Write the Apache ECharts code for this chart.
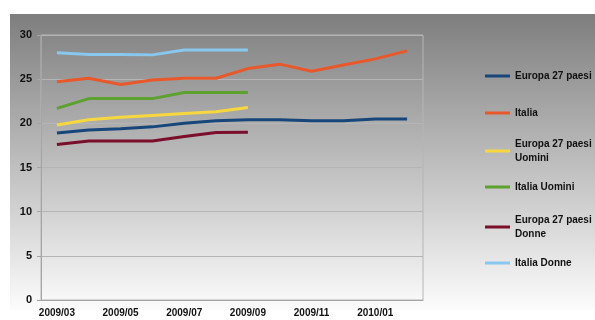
<!DOCTYPE html>
<html>
<head>
<meta charset="utf-8">
<script src="https://cdn.jsdelivr.net/npm/echarts@6/dist/echarts.min.js"></script>
<style>
    html, body { margin: 0; padding: 0; background: #fff; }
    #chart { width: 595px; height: 320px; }
</style>
</head>
<body>
<div id="chart"></div>
<script>
// months on the x axis
const months = ['2009/03', '2009/04', '2009/05', '2009/06', '2009/07', '2009/08',
    '2009/09', '2009/10', '2009/11', '2009/12', '2010/01', '2010/02'];

// values
const europa = [18.9, 19.25, 19.4, 19.6, 20.0, 20.3, 20.4, 20.4, 20.3, 20.3, 20.5, 20.5];
const italia = [24.7, 25.1, 24.4, 24.9, 25.1, 25.1, 26.2, 26.7, 25.9, 26.6, 27.3, 28.2];
const europaUomini = [19.8, 20.4, 20.7, 20.9, 21.1, 21.3, 21.8];
const italiaUomini = [21.7, 22.8, 22.8, 22.8, 23.5, 23.5, 23.5];
const europaDonne = [17.6, 18.0, 18.0, 18.0, 18.5, 18.95, 19.0];
const italiaDonne = [28.0, 27.8, 27.8, 27.75, 28.3, 28.3, 28.3];

const yTicks = { min: 0, max: 30, interval: 5 };

const seriesDefs = [
    { name: 'Europa 27 paesi', data: europa, color: '#17467a', top: 64 },
    { name: 'Italia', data: italia, color: '#e9582b', top: 101 },
    { name: 'Europa 27 paesi Uomini', data: europaUomini, color: '#f6d83e', top: 125 },
    { name: 'Italia Uomini', data: italiaUomini, color: '#5da12f', top: 175 },
    { name: 'Europa 27 paesi Donne', data: europaDonne, color: '#7b0f2b', top: 201 },
    { name: 'Italia Donne', data: italiaDonne, color: '#88c7ee', top: 251 }
];

// only the "Europa 27 paesi ..." entries wrap onto a second line
const isTwoLine = (n) => n.indexOf('paesi ') > 0;
const twoLine = (n) => n.replace('paesi ', 'paesi\n');

const font = 'Liberation Sans, Arial, sans-serif';

const legendFont = {
    fontFamily: font,
    fontWeight: 'bold',
    fontSize: 10,
    color: '#111'
};

const chart = echarts.init(document.getElementById('chart'));

const option = {
    animation: false,
    backgroundColor: '#fff',
    graphic: [
        {
            type: 'rect',
            z: -10,
            silent: true,
            shape: { x: 10, y: 14, width: 585, height: 296 },
            style: {
                fill: new echarts.graphic.LinearGradient(0, 0, 0, 1, [
                    { offset: 0, color: '#7e7e7e' },
                    { offset: 1, color: '#fcfcfc' }
                ])
            }
        }
    ],
    grid: {
        left: 41,
        top: 35,
        width: 382,
        height: 265,
        show: true,
        borderColor: '#b5b5b5',
        borderWidth: 1,
        backgroundColor: 'transparent'
    },
    legend: seriesDefs.map((s) => ({
        data: [s.name],
        left: 480,
        top: s.top,
        orient: 'vertical',
        icon: 'rect',
        itemWidth: 25,
        itemHeight: 3,
        formatter: (n) => twoLine(n),
        textStyle: Object.assign({}, legendFont, {
            lineHeight: 14,
            padding: isTwoLine(s.name) ? [14, 0, 0, 0] : 0
        })
    })),
    xAxis: {
        type: 'category',
        data: months,
        boundaryGap: true,
        axisLine: { lineStyle: { color: '#a5a5a5' } },
        axisTick: { interval: 0, length: 4, lineStyle: { color: '#a5a5a5' } },
        axisLabel: {
            interval: 1,
            margin: 8,
            color: '#111',
            fontFamily: font,
            fontWeight: 'bold',
            fontSize: 10
        },
        splitLine: { show: false }
    },
    yAxis: {
        type: 'value',
        min: yTicks.min,
        max: yTicks.max,
        interval: yTicks.interval,
        axisLine: { show: true, lineStyle: { color: '#a5a5a5' } },
        axisTick: { show: true, length: 4, lineStyle: { color: '#a5a5a5' } },
        axisLabel: {
            margin: 9,
            color: '#111',
            fontFamily: font,
            fontWeight: 'bold',
            fontSize: 11
        },
        splitLine: { lineStyle: { color: '#b5b5b5', width: 1 } }
    },
    series: seriesDefs.map((s) => ({
        name: s.name,
        type: 'line',
        data: s.data,
        symbol: 'none',
        color: s.color,
        lineStyle: { width: 3, color: s.color }
    }))
};

chart.setOption(option);
</script>
</body>
</html>
